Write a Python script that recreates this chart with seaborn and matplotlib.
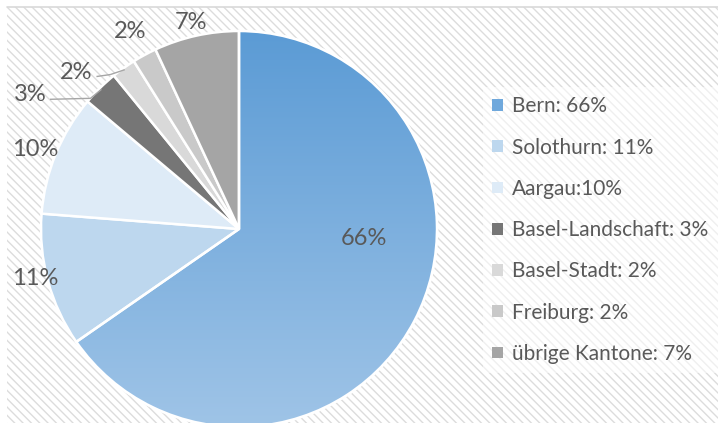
import numpy as np
import pandas as pd
import matplotlib
matplotlib.use("Agg")
import matplotlib.pyplot as plt
import seaborn as sns
from matplotlib.patches import Rectangle, Patch, Wedge
from matplotlib.colors import LinearSegmentedColormap

sns.set_theme(style="white")
plt.rcParams['font.family'] = ['Lato', 'DejaVu Sans']
plt.rcParams['hatch.linewidth'] = 1.0

# ---- data ----
cantons = ["Bern", "Solothurn", "Aargau", "Basel-Landschaft", "Basel-Stadt", "Freiburg", "übrige Kantone"]
shares = [66, 11, 10, 3, 2, 2, 7]
legend_labels = ["Bern: 66%", "Solothurn: 11%", "Aargau:10%", "Basel-Landschaft: 3%",
                 "Basel-Stadt: 2%", "Freiburg: 2%", "übrige Kantone: 7%"]
df = pd.DataFrame({"canton": cantons, "share": shares, "legend": legend_labels})

colors = ["#5b9bd5", "#bdd7ee", "#deebf7", "#767676", "#d9d9d9", "#c9c9c9", "#a5a5a5"]
text_color = "#595959"

W, H = 718, 423
fig = plt.figure(figsize=(W / 100, H / 100), dpi=100)
fig.patch.set_facecolor("white")

# hatched background
bg = fig.add_axes([0, 0, 1, 1])
bg.set_xlim(0, W); bg.set_ylim(H, 0); bg.axis("off")
bg.add_patch(Rectangle((7, 7), W - 7, H - 7, facecolor="white", edgecolor="#dcdcdc",
                       hatch="\\\\\\\\", linewidth=0))
bg.plot([7, W], [7.5, 7.5], color="#d9d9d9", lw=1.2)

# pie axes: center (239,229) px, radius 198 px
cx, cy, R = 239, 229, 198
lim = 1.12
half = lim * R
ax = fig.add_axes([(cx - half) / W, (H - cy - half) / H, 2 * half / W, 2 * half / H])
ax.set_aspect("equal"); ax.axis("off")
ax.patch.set_alpha(0)

wedges, _ = ax.pie(df["share"], colors=colors, startangle=90, counterclock=False,
                   radius=1.0, wedgeprops=dict(edgecolor="white", linewidth=1.8))

# gradient for Bern wedge
grad = np.linspace(0, 1, 256).reshape(-1, 1)
cmap = LinearSegmentedColormap.from_list("bern", ["#5b9bd5", "#9fc4e7"])
im = ax.imshow(grad, extent=[-1, 1, -1, 1], origin="upper", cmap=cmap, aspect="auto", zorder=1.5)
im.set_clip_path(wedges[0])
wedges[0].set_zorder(1)
for w in wedges[1:]:
    w.set_zorder(2)
ax.set_xlim(-lim, lim); ax.set_ylim(-lim, lim)
w0 = wedges[0]
ax.add_patch(Wedge(w0.center, w0.r, w0.theta1, w0.theta2, facecolor="none",
                   edgecolor="white", linewidth=1.8, zorder=2.5))

# data labels
label_pos = [(0.63, -0.05), (-1.03, -0.25), (-1.03, 0.40), (-1.055, 0.68),
             (-0.825, 0.79), (-0.55, 1.00), (-0.24, 1.045)]
for (x, y), v in zip(label_pos, df["share"]):
    ax.text(x, y, f"{v}%", ha="center", va="center", fontsize=17, color=text_color, zorder=5)

# leader lines for small slices
leader_idx = [3, 4]
elbows = [((-0.955, 0.655), (-0.75, 0.66)), ((-0.72, 0.77), (-0.65, 0.78))]
for i, (p0, p1) in zip(leader_idx, elbows):
    w = wedges[i]
    th = np.deg2rad((w.theta1 + w.theta2) / 2)
    ax.plot([p0[0], p1[0], np.cos(th) * 0.99], [p0[1], p1[1], np.sin(th) * 0.99],
            color="#a6a6a6", lw=1.0, zorder=4, solid_capstyle="butt")

# legend
handles = [Patch(facecolor=c, edgecolor="none") for c in colors]
handles[0] = Patch(facecolor="#6fa8dc", edgecolor="none")
leg = fig.legend(handles, df["legend"], loc="upper left",
                 bbox_to_anchor=(483 / W, 1 - 87 / H), frameon=True, fontsize=15,
                 handlelength=0.5, handleheight=0.5, handletextpad=0.45,
                 labelspacing=1.02, borderpad=0.45, borderaxespad=0)
frame = leg.get_frame()
frame.set_facecolor("white"); frame.set_alpha(0.55); frame.set_edgecolor("none")
frame.set_boxstyle("square", pad=0)
for t in leg.get_texts():
    t.set_color(text_color)

fig.savefig("out.png", dpi=100)
